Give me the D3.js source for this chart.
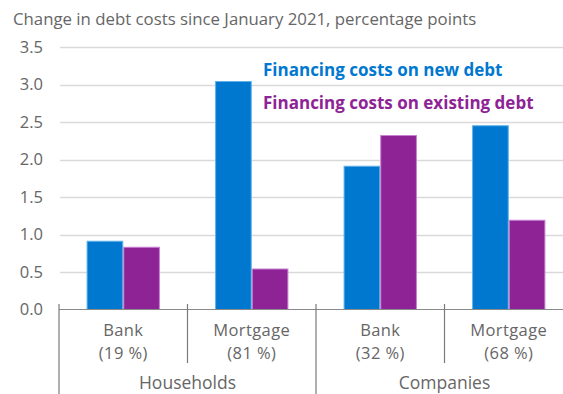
<!DOCTYPE html>
<html>
<head>
<meta charset="utf-8">
<script src="https://cdn.jsdelivr.net/npm/d3@7"></script>
<style>
  html, body { margin: 0; padding: 0; background: #fff; }
  svg { display: block; font-family: "Open Sans", "Noto Sans", sans-serif; }
</style>
</head>
<body>
<svg id="chart" width="563" height="394"></svg>
<script>
// Debt categories, grouped by sector
const categories = ["Bank (19 %)", "Mortgage (81 %)", "Bank (32 %)", "Mortgage (68 %)"];
const categoryLines = [["Bank", "(19 %)"], ["Mortgage", "(81 %)"], ["Bank", "(32 %)"], ["Mortgage", "(68 %)"]];
const groups = ["Households", "Companies"];
const groupSpans = [[0, 1], [2, 3]];

// Series: change in financing costs, percentage points
const seriesNames = ["Financing costs on new debt", "Financing costs on existing debt"];
const newDebt = [0.91, 3.04, 1.91, 2.45];
const existingDebt = [0.83, 0.54, 2.32, 1.19];

const yTicks = [0, 0.5, 1, 1.5, 2, 2.5, 3, 3.5];

const fills = ["#0078d0", "#8e2396"];
const strokes = ["#5eb0ea", "#c77fd0"];
const textColor = "#666";

const svg = d3.select("#chart");
const plotLeft = 59, plotRight = 573, plotTop = 47, plotBottom = 309.5;

const x = d3.scaleBand().domain(categories).range([plotLeft, plotRight]).padding(0);
const x1 = d3.scaleBand().domain(seriesNames).range([0, x.bandwidth()]).paddingInner(0).paddingOuter(0.753);
const y = d3.scaleLinear().domain([0, 3.5]).range([plotBottom, plotTop]);

// Title
svg.append("text")
  .attr("x", 13).attr("y", 25)
  .attr("fill", textColor).attr("font-size", 16.8)
  .text("Change in debt costs since January 2021, percentage points");

// Y tick labels
const yAxis = d3.axisLeft(y).tickValues(yTicks).tickFormat(d3.format(".1f")).tickSize(0).tickPadding(16);
const gy = svg.append("g").attr("transform", `translate(${plotLeft},0)`).call(yAxis);
gy.select(".domain").remove();
gy.selectAll("text").attr("fill", textColor).attr("font-size", 16.5).attr("font-family", "Open Sans, sans-serif");

// Gridlines
svg.append("g").selectAll("line")
  .data(yTicks.filter(d => d > 0))
  .join("line")
  .attr("x1", plotLeft + 1).attr("x2", 563)
  .attr("y1", d => Math.round(y(d)) + 0.5).attr("y2", d => Math.round(y(d)) + 0.5)
  .attr("stroke", "#d9d9d9").attr("stroke-width", 1.5);

// Bars
const data = categories.map((c, i) => ({ cat: c, vals: [newDebt[i], existingDebt[i]] }));
const bars = svg.append("g");
data.forEach(d => {
  d.vals.forEach((v, k) => {
    bars.append("rect")
      .attr("x", x(d.cat) + x1(seriesNames[k]) + 0.5)
      .attr("y", y(v))
      .attr("width", x1.bandwidth() - 1)
      .attr("height", y(0) - y(v))
      .attr("fill", fills[k])
      .attr("stroke", strokes[k])
      .attr("stroke-width", 1);
  });
});

// Baseline
svg.append("line")
  .attr("x1", plotLeft).attr("x2", 563)
  .attr("y1", plotBottom).attr("y2", plotBottom)
  .attr("stroke", "#8a8a8a").attr("stroke-width", 1.2);

// Category separators: short ones inside groups, long ones between groups
const axisColor = "#7a7a7a";
categories.forEach((c, i) => {
  const xs = x(c);
  const isGroupStart = groupSpans.some(s => s[0] === i);
  svg.append("line")
    .attr("x1", xs).attr("x2", xs)
    .attr("y1", 304).attr("y2", isGroupStart ? 394 : 363)
    .attr("stroke", axisColor).attr("stroke-width", 1.2);
});

// Category labels, two lines each
const catLabels = svg.append("g").attr("fill", textColor).attr("font-size", 16.5)
  .attr("letter-spacing", 0.4).attr("text-anchor", "middle");
categories.forEach((c, i) => {
  const cx = x(c) + x.bandwidth() / 2;
  catLabels.append("text").attr("x", cx).attr("y", 336).text(categoryLines[i][0]);
  catLabels.append("text").attr("x", cx).attr("y", 358.5).text(categoryLines[i][1]);
});

// Group labels
groupSpans.forEach((s, g) => {
  const gx = (x(categories[s[0]]) + x(categories[s[1]]) + x.bandwidth()) / 2;
  svg.append("text")
    .attr("x", gx).attr("y", 389)
    .attr("fill", textColor).attr("font-size", 17.5).attr("text-anchor", "middle")
    .text(groups[g]);
});

// Legend
seriesNames.forEach((n, k) => {
  svg.append("text")
    .attr("x", 263).attr("y", 76 + k * 33)
    .attr("fill", fills[k]).attr("font-size", 17).attr("font-weight", "bold")
    .text(n);
});
</script>
</body>
</html>
